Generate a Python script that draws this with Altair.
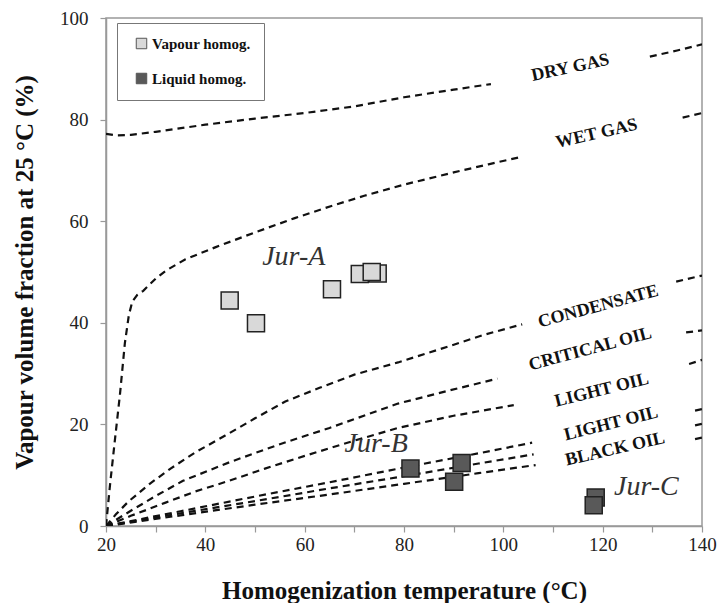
import altair as alt
import pandas as pd

# ---------------- data ----------------
vap_x = [44.9, 50.2, 65.5, 71.1, 74.7, 73.5]
vap_y = [44.4, 39.9, 46.6, 49.6, 49.7, 50.0]
liq_x = [81.3, 91.6, 90.1, 118.6, 118.2]
liq_y = [11.3, 12.4, 8.7, 5.6, 4.1]

# dashed boundary curves
dry1_x = [20, 22, 25, 30, 40, 50, 60, 70, 80, 90, 97.5]
dry1_y = [77.2, 76.9, 77.0, 77.6, 79.0, 80.2, 81.3, 82.6, 84.4, 85.9, 87.0]
dry2_x = [129.5, 135, 140]
dry2_y = [92.4, 93.6, 94.8]
wet1_x = [20, 20.8, 21.8, 22.8, 23.8, 24.6, 25.3, 26.3, 27.5, 30, 32.1, 36, 42.1, 50, 58, 65.4, 72, 80, 90, 97, 103.8]
wet1_y = [0, 8, 17, 25.8, 36, 41.5, 44.2, 45.5, 46.3, 48.7, 50.3, 52.5, 54.9, 57.8, 60.6, 63, 65, 67.2, 69.6, 71.2, 72.7]
wet2_x = [136.1, 140]
wet2_y = [80.4, 81.3]
cond1_x = [20, 22, 24.5, 28.8, 33, 38, 44, 50, 56.1, 63, 70, 78.8, 88.8, 96, 103.8]
cond1_y = [0, 2.3, 4.8, 8.3, 11.3, 14.5, 17.8, 21.2, 24.5, 27.2, 29.8, 32.2, 35.3, 37.6, 39.7]
cond2_x = [134.8, 140]
cond2_y = [48.1, 49.3]
crit1_x = [20, 25, 30, 35.5, 45, 55, 65, 78.8, 88.8, 98.8]
crit1_y = [0, 3, 5.9, 8.9, 12.6, 16.1, 19.3, 24.1, 26.6, 29.0]
crit2_x = [136.8, 140]
crit2_y = [38.1, 38.5]
lo1_x = [20, 25, 32, 38, 44.8, 52, 60, 70, 78.8, 90, 102.1]
lo1_y = [0, 2, 4.6, 6.8, 8.9, 11.3, 13.8, 16.8, 19.3, 21.7, 23.8]
lo2_x = [137.4, 140]
lo2_y = [31.9, 32.7]
a1_x = [20, 35, 50, 65, 80, 95, 105.8]
a1_y = [0, 2.9, 5.8, 8.6, 11.5, 14.3, 16.4]
a2_x = [138.6, 140]
a2_y = [22.7, 23.0]
b1_x = [20, 35, 50, 65, 80, 95, 106.1]
b1_y = [0, 2.5, 4.9, 7.4, 9.8, 12.3, 14.1]
b2_x = [138.6, 140]
b2_y = [19.8, 20.1]
c1_x = [20, 35, 50, 65, 80, 95, 106.5]
c1_y = [0, 2.1, 4.2, 6.2, 8.3, 10.4, 12.0]
c2_x = [138.6, 140]
c2_y = [17.1, 17.4]

zone_text = ["DRY GAS", "WET GAS", "CONDENSATE", "CRITICAL  OIL", "LIGHT OIL", "LIGHT OIL", "BLACK OIL"]
zone_x = [113.5, 118.8, 119.1, 117.5, 119.8, 121.7, 122.5]
zone_y = [90.2, 77.2, 43.2, 34.8, 26.7, 20.1, 15.1]
zone_angle = [348, 347, 345, 345, 346, 346, 347]

jur_text = ["Jur-A", "Jur-B", "Jur-C"]
jur_x = [57.8, 74.4, 128.8]
jur_y = [53.0, 16.1, 7.6]

# ---------------- tables ----------------
segs = [("dry1", dry1_x, dry1_y), ("dry2", dry2_x, dry2_y),
        ("wet1", wet1_x, wet1_y), ("wet2", wet2_x, wet2_y),
        ("cond1", cond1_x, cond1_y), ("cond2", cond2_x, cond2_y),
        ("crit1", crit1_x, crit1_y), ("crit2", crit2_x, crit2_y),
        ("lo1", lo1_x, lo1_y), ("lo2", lo2_x, lo2_y),
        ("a1", a1_x, a1_y), ("a2", a2_x, a2_y),
        ("b1", b1_x, b1_y), ("b2", b2_x, b2_y),
        ("c1", c1_x, c1_y), ("c2", c2_x, c2_y)]
rows = []
for name, xs, ys in segs:
    for i, (xv, yv) in enumerate(zip(xs, ys)):
        rows.append({"seg": name, "x": xv, "y": yv, "o": i})
lines_df = pd.DataFrame(rows)

pts_df = pd.DataFrame({
    "x": vap_x + liq_x,
    "y": vap_y + liq_y,
    "type": ["Vapour homog."] * len(vap_x) + ["Liquid homog."] * len(liq_x),
})
zone_df = pd.DataFrame({"t": zone_text, "x": zone_x, "y": zone_y, "a": zone_angle})
jur_df = pd.DataFrame({"t": jur_text, "x": jur_x, "y": jur_y})

SERIF = "Liberation Serif"

xscale = alt.Scale(domain=[20, 140], nice=False, zero=False)
yscale = alt.Scale(domain=[0, 100], nice=False)

xaxis = alt.Axis(values=list(range(20, 141, 10)),
                 labelExpr="datum.value % 20 == 0 ? datum.label : ''",
                 labelFlush=False, labelPadding=3,
                 title="Homogenization temperature (°C)", titlePadding=24,
                 titleFontSize=25)
yaxis = alt.Axis(values=list(range(0, 101, 20)), labelFlush=False, labelPadding=12,
                 title="Vapour volume fraction at 25 °C (%)", titlePadding=22,
                 titleFontSize=25)

lines = alt.Chart(lines_df).mark_line(
    strokeDash=[7, 5], strokeWidth=2.2, color="#111", clip=True
).encode(
    x=alt.X("x:Q", scale=xscale, axis=xaxis),
    y=alt.Y("y:Q", scale=yscale, axis=yaxis),
    detail="seg:N",
    order="o:Q",
)

points = alt.Chart(pts_df).mark_square(
    size=290, stroke="#222", strokeWidth=1.5, opacity=1
).encode(
    x=alt.X("x:Q", scale=xscale),
    y=alt.Y("y:Q", scale=yscale),
    fill=alt.Fill("type:N",
                  scale=alt.Scale(domain=["Vapour homog.", "Liquid homog."],
                                  range=["#d9d9d9", "#595959"]),
                  legend=alt.Legend(title=None, orient="none", legendX=11, legendY=5,
                                    symbolType="square", symbolSize=110,
                                    symbolStrokeWidth=1, symbolStrokeColor="#555",
                                    labelFont=SERIF, labelFontSize=15, labelFontWeight="bold",
                                    labelColor="#111", rowPadding=19,
                                    padding=13, strokeColor="#777", fillColor="white",
                                    symbolOffset=4, labelOffset=3)),
)

zones = alt.Chart(zone_df).mark_text(
    font=SERIF, fontSize=18, fontWeight="bold", color="#111"
).encode(
    x=alt.X("x:Q", scale=xscale),
    y=alt.Y("y:Q", scale=yscale),
    text="t:N",
    angle=alt.Angle("a:Q", scale=None),
)

jurs = alt.Chart(jur_df).mark_text(
    font=SERIF, fontSize=28, fontStyle="italic", color="#333"
).encode(
    x=alt.X("x:Q", scale=xscale),
    y=alt.Y("y:Q", scale=yscale),
    text="t:N",
)

chart = alt.layer(lines, points, zones, jurs).properties(
    width=596, height=508,
    padding={"left": 98, "top": 10, "right": 16, "bottom": 77},
    autosize=alt.AutoSizeParams(type="none"),
    background="white",
).configure_view(
    stroke="#999", strokeWidth=1.5
).configure_axis(
    grid=False, domainColor="#999", domainWidth=1.5, tickColor="#999", tickSize=6,
    tickWidth=1.2, labelFont=SERIF, labelFontSize=19, labelColor="#222",
    titleFont=SERIF, titleFontWeight="bold", titleColor="#111",
)

chart.save("out.html", embed_options={"renderer": "svg", "actions": False})
